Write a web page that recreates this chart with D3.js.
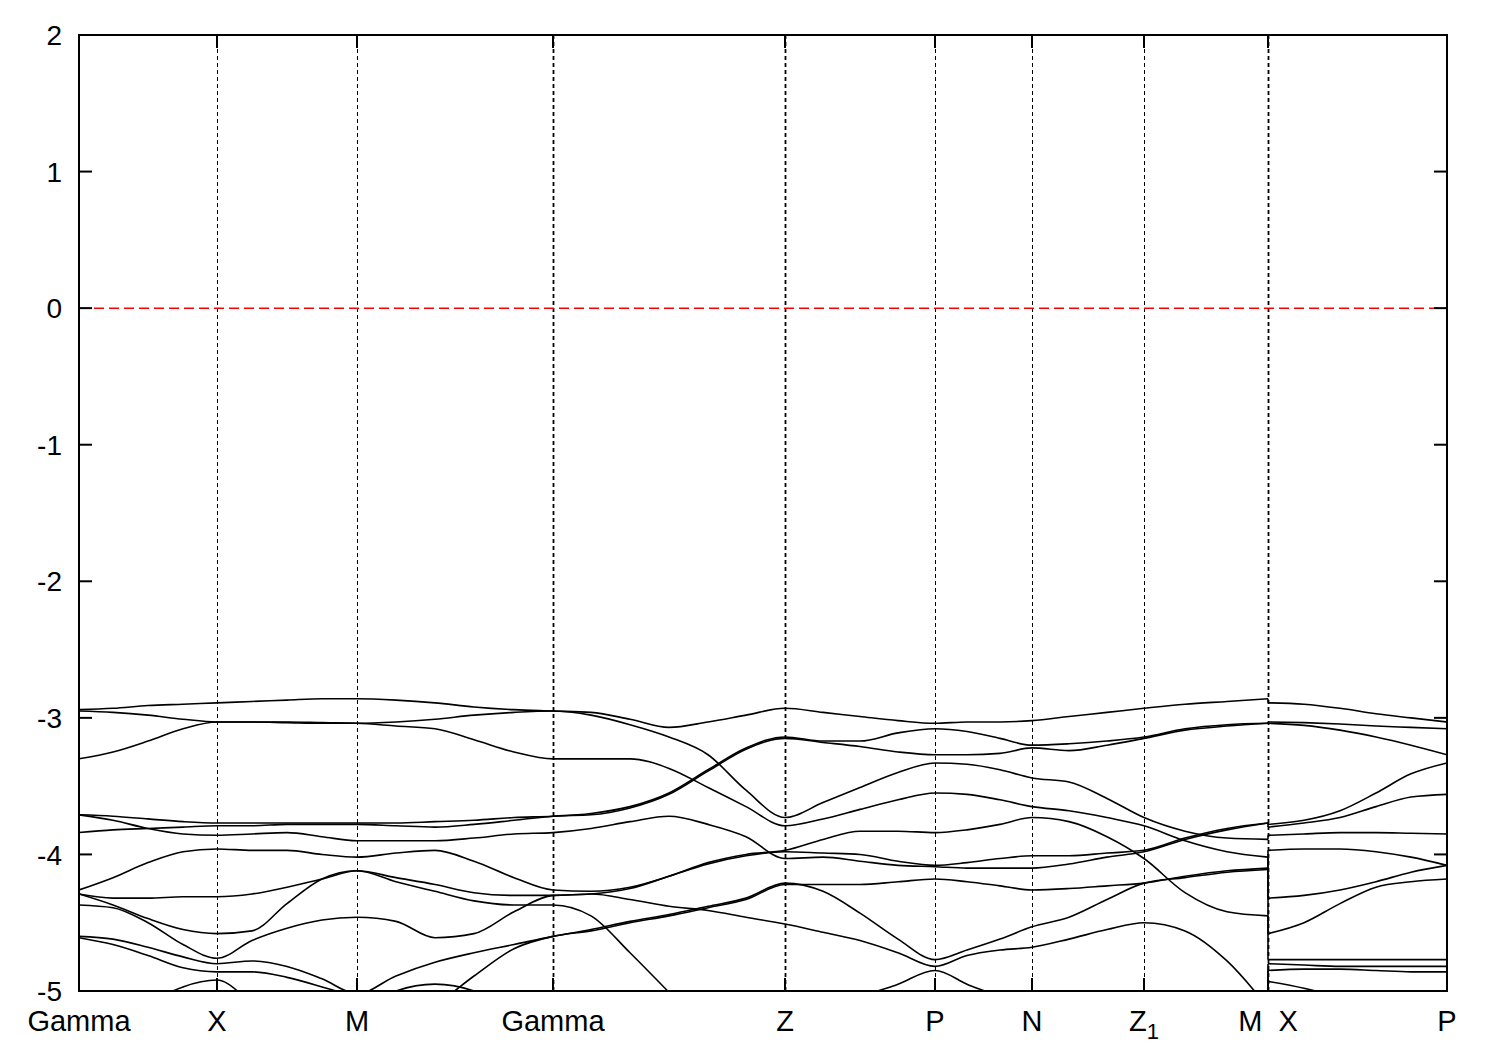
<!DOCTYPE html>
<html><head><meta charset="utf-8">
<script src="https://cdn.jsdelivr.net/npm/d3@7"></script>
<style>body{margin:0;background:#fff;} svg{display:block;}</style>
</head><body>
<svg id="chart" width="1500" height="1050"></svg>
<script>
// k-path distance of each sample column (two columns at the M|X break)
const kDist = [0, 34, 69, 104, 138, 173, 208, 243, 278, 317, 356, 395, 435, 474, 512, 551, 590, 629, 667, 706,
  744, 781, 819, 856, 888, 921, 953, 990, 1028, 1065, 1106, 1148, 1189, 1189, 1225, 1261, 1297, 1332, 1368];
const tickPos = [0, 138, 278, 474, 706, 856, 953, 1065, 1189, 1368];
const tickLabels = ["Gamma", "X", "M", "Gamma", "Z", "P", "N", "Z1", "M  X", "P"];
const boldGrid = [474, 706, 1189];
const yTicks = [2, 1, 0, -1, -2, -3, -4, -5];
const breakIndex = 33;

const bandA = [-2.94,-2.93,-2.91,-2.90,-2.89, -2.88,-2.87,-2.86,-2.86, -2.87,-2.89,-2.92,-2.94,-2.95,
  -2.96,-3.01,-3.07,-3.03,-2.98,-2.93, -2.96,-2.99,-3.02,-3.04, -3.03,-3.03,-3.02, -2.99,-2.96,-2.93,
  -2.90,-2.88,-2.86, -2.89,-2.90,-2.93,-2.97,-3.00,-3.03];
const bandB = [-2.95,-2.96,-2.98,-3.01,-3.03, -3.03,-3.035,-3.04,-3.04, -3.03,-3.01,-2.98,-2.96,-2.95,
  -2.98,-3.05,-3.14,-3.27,-3.53,-3.73, -3.62,-3.51,-3.40,-3.33, -3.34,-3.38,-3.44, -3.47,-3.59,-3.73,
  -3.83,-3.88,-3.89, -3.86,-3.85,-3.84,-3.84,-3.845,-3.85];
const bandC = [-3.30,-3.25,-3.17,-3.08,-3.03, -3.03,-3.03,-3.035,-3.04, -3.06,-3.08,-3.16,-3.25,-3.30,
  -3.30,-3.30,-3.37,-3.51,-3.65,-3.79, -3.74,-3.67,-3.60,-3.55, -3.56,-3.60,-3.65, -3.68,-3.73,-3.79,
  -3.90,-3.98,-4.02, -4.32,-4.30,-4.26,-4.20,-4.13,-4.08];
const bandD1 = [-3.71,-3.72,-3.74,-3.76,-3.77, -3.77,-3.77,-3.77,-3.77, -3.77,-3.76,-3.75,-3.73,-3.72,
  -3.70,-3.65,-3.55,-3.38,-3.22,-3.14, -3.17,-3.17,-3.11,-3.08, -3.10,-3.15,-3.20, -3.19,-3.17,-3.14,
  -3.08,-3.05,-3.04, -3.03,-3.035,-3.045,-3.06,-3.07,-3.08];
const bandD3 = [-3.84,-3.82,-3.81,-3.80,-3.79, -3.79,-3.78,-3.78,-3.78, -3.79,-3.80,-3.78,-3.75,-3.72,
  -3.71,-3.66,-3.56,-3.39,-3.23,-3.15, -3.18,-3.21,-3.25,-3.27, -3.27,-3.26,-3.22, -3.24,-3.20,-3.15,
  -3.09,-3.06,-3.04, -3.04,-3.055,-3.09,-3.14,-3.20,-3.27];
const bandD2 = [-3.71,-3.75,-3.81,-3.85,-3.86, -3.85,-3.84,-3.87,-3.90, -3.90,-3.90,-3.88,-3.85,-3.84,
  -3.81,-3.76,-3.72,-3.78,-3.87,-4.03, -4.02,-4.05,-4.08,-4.09, -4.10,-4.10,-4.10, -4.07,-4.02,-3.98,
  -3.89,-3.82,-3.77, -3.78,-3.75,-3.68,-3.55,-3.41,-3.33];
const bandE = [-4.26,-4.17,-4.06,-3.98,-3.96, -3.97,-3.97,-4.00,-4.02, -3.99,-3.97,-4.05,-4.17,-4.26,
  -4.27,-4.24,-4.16,-4.06,-4.00,-3.97, -3.89,-3.83,-3.83,-3.84, -3.82,-3.78,-3.73, -3.76,-3.87,-4.03,
  -4.28,-4.42,-4.45, -4.77,-4.77,-4.77,-4.77,-4.77,-4.77];
const bandF = [-4.29,-4.32,-4.32,-4.31,-4.31, -4.29,-4.24,-4.18,-4.12, -4.17,-4.22,-4.28,-4.30,-4.30,
  -4.29,-4.33,-4.38,-4.41,-4.46,-4.51, -4.57,-4.63,-4.72,-4.82, -4.74,-4.70,-4.68, -4.62,-4.55,-4.50,
  -4.56,-4.78,-5.12, -4.80,-4.81,-4.82,-4.82,-4.82,-4.82];
const bandG = [-4.29,-4.37,-4.47,-4.55,-4.58, -4.56,-4.36,-4.18,-4.12, -4.20,-4.27,-4.34,-4.37,-4.37,
  -4.45,-4.72,-5.01,-5.30,-5.50,-5.60, -5.70,-5.80,-5.80,-5.80, -5.80,-5.80,-5.80, -5.80,-5.80,-5.80,
  -5.80,-5.80,-5.80, -4.93,-4.98,-5.05,-5.15,-5.25,-5.30];
const bandH = [-4.37,-4.39,-4.50,-4.66,-4.76, -4.63,-4.54,-4.48,-4.46, -4.49,-4.61,-4.58,-4.42,-4.30,
  -4.29,-4.25,-4.16,-4.07,-4.01,-3.98, -3.99,-4.00,-4.05,-4.08, -4.06,-4.03,-4.01, -4.01,-3.99,-3.97,
  -3.88,-3.81,-3.77, -3.80,-3.77,-3.73,-3.65,-3.58,-3.56];
const bandI = [-4.60,-4.62,-4.68,-4.75,-4.80, -4.78,-4.82,-4.91,-5.02, -4.89,-4.79,-4.72,-4.66,-4.60,
  -4.55,-4.49,-4.44,-4.38,-4.32,-4.21, -4.27,-4.43,-4.62,-4.77, -4.70,-4.62,-4.53, -4.46,-4.33,-4.21,
  -4.17,-4.13,-4.11, -4.58,-4.50,-4.36,-4.24,-4.20,-4.18];
const bandJ = [-4.61,-4.66,-4.74,-4.83,-4.86, -4.86,-4.90,-4.97,-5.05, -5.20,-5.10,-4.89,-4.69,-4.60,
  -4.56,-4.50,-4.45,-4.39,-4.33,-4.22, -4.22,-4.22,-4.20,-4.18, -4.20,-4.23,-4.26, -4.25,-4.23,-4.21,
  -4.16,-4.12,-4.10, -3.97,-3.96,-3.96,-3.98,-4.02,-4.08];
const bandK = [-5.60,-5.30,-5.10,-4.97,-4.92, -5.08,-5.20,-5.20,-5.15, -5.00,-4.95,-5.00,-5.15,-5.30,
  -5.50,-5.60,-5.60,-5.50,-5.40,-5.30, -5.20,-5.05,-4.95,-4.85, -4.95,-5.05,-5.20, -5.30,-5.40,-5.50,
  -5.60,-5.60,-5.60, -4.85,-4.84,-4.84,-4.85,-4.86,-4.86];

const bands = [bandA, bandB, bandC, bandD1, bandD3, bandD2, bandE, bandF, bandG, bandH, bandI, bandJ, bandK];

(function draw() {
  const pL = 79, pR = 1447, pT = 35, pB = 991;
  const x = d3.scaleLinear().domain([0, 1368]).range([pL, pR]);
  const y = d3.scaleLinear().domain([-5, 2]).range([pB, pT]);
  const font = "'Liberation Sans', Arial, Helvetica, sans-serif";

  const svg = d3.select("#chart");
  svg.append("rect").attr("width", 1500).attr("height", 1050).attr("fill", "#fff");
  svg.append("defs").append("clipPath").attr("id", "plotclip")
    .append("rect").attr("x", pL).attr("y", pT).attr("width", pR - pL).attr("height", pB - pT);

  // vertical grid at high-symmetry points
  svg.append("g").selectAll("line").data(tickPos).join("line")
    .attr("x1", d => Math.round(x(d)) + 0.5).attr("x2", d => Math.round(x(d)) + 0.5)
    .attr("y1", pT).attr("y2", pB)
    .attr("stroke", "#000").attr("stroke-width", d => boldGrid.includes(d) ? 1.8 : 1)
    .attr("stroke-dasharray", "4,3");

  // Fermi level
  svg.append("line").attr("x1", pL).attr("x2", pR).attr("y1", y(0)).attr("y2", y(0))
    .attr("stroke", "#ff0000").attr("stroke-width", 1.5).attr("stroke-dasharray", "10,5");

  const line = d3.line().x(d => x(d[0])).y(d => y(d[1])).curve(d3.curveMonotoneX);
  const straight = d3.line().x(d => x(d[0])).y(d => y(d[1]));
  const g = svg.append("g").attr("clip-path", "url(#plotclip)")
    .attr("fill", "none").attr("stroke", "#000").attr("stroke-width", 1.6);
  bands.forEach(b => {
    const pts = b.map((v, i) => [kDist[i], v]);
    g.append("path").attr("d", line(pts.slice(0, breakIndex)));
    g.append("path").attr("d", line(pts.slice(breakIndex)));
    g.append("path").attr("d", straight([pts[breakIndex - 1], pts[breakIndex]]));
  });

  // frame
  svg.append("rect").attr("x", pL).attr("y", pT).attr("width", pR - pL).attr("height", pB - pT)
    .attr("fill", "none").attr("stroke", "#000").attr("stroke-width", 2);

  // y ticks (both sides) and labels
  const tl = 13;
  const yt = svg.append("g").attr("stroke", "#000").attr("stroke-width", 2);
  yTicks.forEach(t => {
    yt.append("line").attr("x1", pL).attr("x2", pL + tl).attr("y1", y(t)).attr("y2", y(t));
    yt.append("line").attr("x1", pR - tl).attr("x2", pR).attr("y1", y(t)).attr("y2", y(t));
  });
  svg.append("g").selectAll("text").data(yTicks).join("text")
    .attr("x", 62).attr("y", d => y(d)).attr("dy", "0.36em").attr("text-anchor", "end")
    .attr("font-family", font).attr("font-size", 28).text(d => d);

  // x ticks
  const xt = svg.append("g").attr("stroke", "#000").attr("stroke-width", 2);
  tickPos.forEach(t => {
    xt.append("line").attr("x1", x(t)).attr("x2", x(t)).attr("y1", pB).attr("y2", pB - tl);
    xt.append("line").attr("x1", x(t)).attr("x2", x(t)).attr("y1", pT).attr("y2", pT + tl);
  });
  const xl = svg.append("g").attr("font-family", font).attr("font-size", 29).attr("text-anchor", "middle");
  tickLabels.forEach((lab, i) => {
    const t = xl.append("text").attr("x", x(tickPos[i])).attr("y", 1031).style("white-space", "pre");
    if (lab === "Z1") {
      t.append("tspan").text("Z");
      t.append("tspan").attr("font-size", 22).attr("dy", 8).text("1");
    } else {
      t.text(lab);
    }
  });
})();
</script>
</body></html>
